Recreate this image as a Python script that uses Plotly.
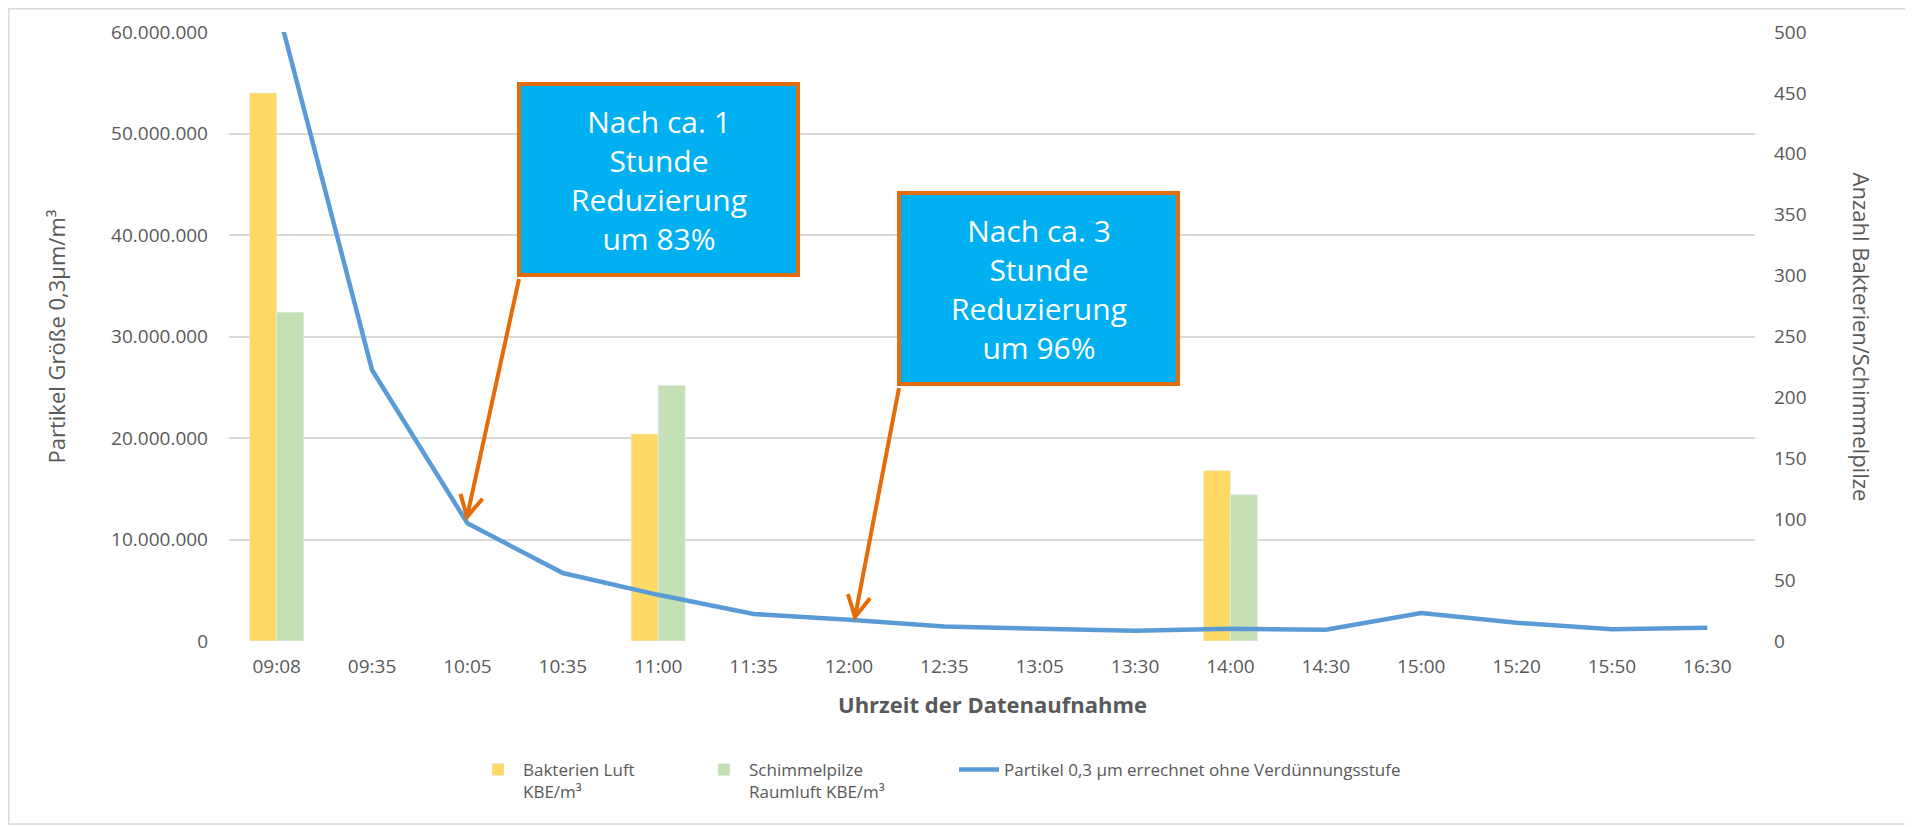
import math
import plotly.graph_objects as go

# ---------------- data ----------------
times = ["09:08", "09:35", "10:05", "10:35", "11:00", "11:35", "12:00", "12:35",
         "13:05", "13:30", "14:00", "14:30", "15:00", "15:20", "15:50", "16:30"]
bakterien = [450, None, None, None, 170, None, None, None,
             None, None, 140, None, None, None, None, None]
schimmel = [270, None, None, None, 210, None, None, None,
            None, None, 120, None, None, None, None, None]
partikel = [62700000, 26700000, 11600000, 6700000, 4550000, 2660000, 2100000, 1420000,
            1200000, 1000000, 1200000, 1100000, 2750000, 1800000, 1150000, 1300000]

name_bak = "Bakterien Luft<br>KBE/m³"
name_sch = "Schimmelpilze<br>Raumluft KBE/m³"
name_par = "Partikel 0,3 µm errechnet ohne Verdünnungsstufe"
title_x = "Uhrzeit der Datenaufnahme"
title_yl = "Partikel Größe 0,3µm/m³"
title_yr = "Anzahl Bakterien/Schimmelpilze"
box1_text = "Nach ca. 1<br>Stunde<br>Reduzierung<br>um 83%"
box2_text = "Nach ca. 3<br>Stunde<br>Reduzierung<br>um 96%"

# ---------------- layout geometry ----------------
OFF = 8                      # page body margin in the browser
W, H = 1913 - OFF, 827 - OFF
# plot area in page pixels
PL, PR, PT, PB = 229, 1755, 32, 641
L, R, T, B = PL - OFF, PR - OFF, PT - OFF, PB - OFF


def px(p):
    """page pixel x -> paper x"""
    return (p - PL) / (PR - PL)


def py(p):
    """page pixel y -> paper y"""
    return (PB - p) / (PB - PT)


TXT = "#595959"
FONT = "Open Sans, Noto Sans, sans-serif"
ORANGE = "#E46C0A"

fig = go.Figure()
fig.add_trace(go.Bar(x=times, y=bakterien, name=name_bak, marker_color="#FFD966",
                     yaxis="y", legend="legend", showlegend=True))
fig.add_trace(go.Bar(x=times, y=schimmel, name=name_sch, marker_color="#C5E0B4",
                     yaxis="y", legend="legend2", showlegend=True))
fig.add_trace(go.Scatter(x=times, y=partikel, name=name_par, mode="lines",
                         line=dict(color="#5B9BD5", width=4.5), yaxis="y2",
                         legend="legend3", showlegend=True))

shapes = []
annotations = []

# outer border
shapes.append(dict(type="rect", xref="paper", yref="paper", layer="below",
                   x0=px(8.8), x1=px(1910), y0=py(824), y1=py(8.8),
                   line=dict(color="#D9D9D9", width=1.5), fillcolor="rgba(0,0,0,0)"))


def arrow(tail, tip, length=24, ang=28):
    (x0, y0), (x1, y1) = tail, tip
    dx, dy = x0 - x1, y0 - y1
    n = math.hypot(dx, dy)
    ux, uy = dx / n, dy / n
    pts = []
    for s in (1, -1):
        a = math.radians(ang) * s
        rx = ux * math.cos(a) - uy * math.sin(a)
        ry = ux * math.sin(a) + uy * math.cos(a)
        pts.append((x1 + rx * length, y1 + ry * length))
    path = (f"M {px(x0)} {py(y0)} L {px(x1)} {py(y1)} "
            f"M {px(pts[0][0])} {py(pts[0][1])} L {px(x1)} {py(y1)} "
            f"L {px(pts[1][0])} {py(pts[1][1])}")
    shapes.append(dict(type="path", xref="paper", yref="paper", layer="above",
                       path=path, line=dict(color=ORANGE, width=4)))


def box(x0, y0, x1, y1, text):
    shapes.append(dict(type="rect", xref="paper", yref="paper", layer="above",
                       x0=px(x0), x1=px(x1), y0=py(y1), y1=py(y0),
                       fillcolor="#00B0F0", line=dict(color=ORANGE, width=4)))
    annotations.append(dict(xref="paper", yref="paper", x=px((x0 + x1) / 2),
                            y=py((y0 + y1) / 2), xanchor="center", yanchor="middle",
                            text=text, showarrow=False, align="center",
                            font=dict(family=FONT, size=30, color="white")))


arrow((519, 279), (467, 517))
arrow((899, 388), (855, 617))
box(519, 84, 798, 275, box1_text)
box(899, 193, 1178, 384, box2_text)

# axis titles
annotations.append(dict(xref="paper", yref="paper", x=px(55), y=0.5, text=title_yl,
                        textangle=-90, showarrow=False, xanchor="center", yanchor="middle",
                        font=dict(family=FONT, size=22, color=TXT)))
annotations.append(dict(xref="paper", yref="paper", x=px(1862), y=0.5, text=title_yr,
                        textangle=90, showarrow=False, xanchor="center", yanchor="middle",
                        font=dict(family=FONT, size=22, color=TXT)))
annotations.append(dict(xref="paper", yref="paper", x=0.5, y=py(704), text="<b>" + title_x + "</b>",
                        showarrow=False, xanchor="center", yanchor="middle",
                        font=dict(family=FONT, size=22, color=TXT)))

legend_common = dict(orientation="h", y=py(752), xanchor="left", yanchor="top",
                     valign="top", font=dict(family=FONT, size=17, color=TXT),
                     itemwidth=40, bgcolor="rgba(0,0,0,0)", visible=True)

fig.update_layout(
    width=W, height=H,
    margin=dict(l=L, r=W - R, t=T, b=H - B, autoexpand=False),
    paper_bgcolor="white", plot_bgcolor="white",
    separators=",.",
    showlegend=True,
    barmode="group", bargap=0.434, bargroupgap=0,
    font=dict(family=FONT, color=TXT),
    xaxis=dict(type="category", showgrid=False, showline=False, ticks="",
               tickfont=dict(size=19, color=TXT), ticklabelstandoff=12),
    yaxis=dict(side="right", range=[0, 500], dtick=50, showgrid=False, zeroline=False,
               ticks="", tickfont=dict(size=19, color=TXT), ticklabelstandoff=18),
    yaxis2=dict(side="left", overlaying="y", range=[0, 60000000], dtick=10000000,
                tickformat=",d", showgrid=True, gridcolor="#D9D9D9", gridwidth=1.5,
                zeroline=False, ticks="", tickfont=dict(size=19, color=TXT),
                ticklabelstandoff=20),
    legend=dict(x=px(473), **legend_common),
    legend2=dict(x=px(699), **legend_common),
    legend3=dict(x=px(954), **legend_common),
    shapes=shapes, annotations=annotations,
)

fig.write_html("out.html")
